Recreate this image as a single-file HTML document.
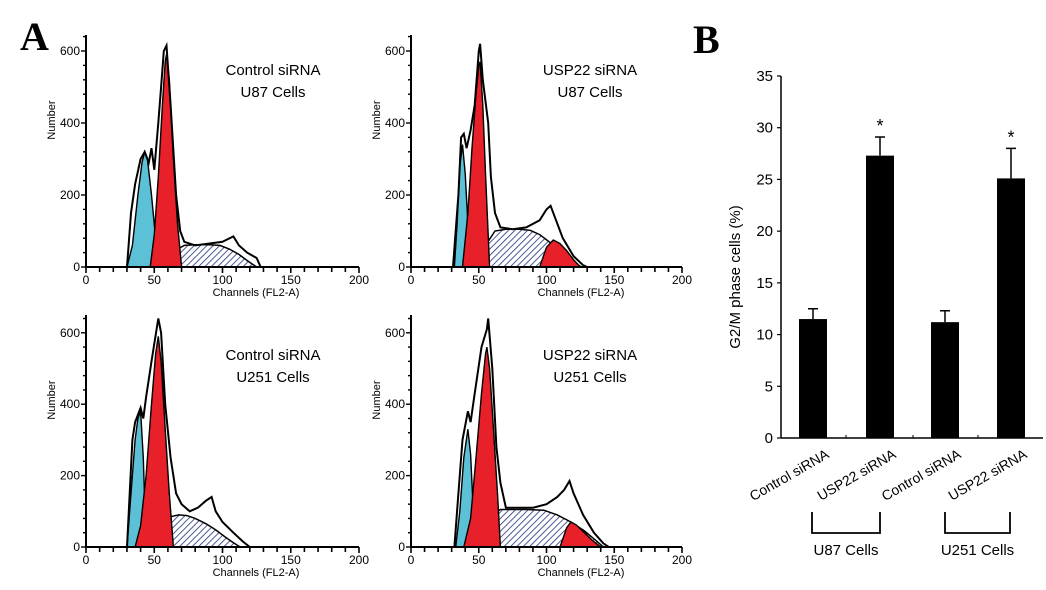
<!DOCTYPE html>
<html><head><meta charset="utf-8">
<style>
html,body{margin:0;padding:0;background:#fff;}
svg{display:block;font-family:"Liberation Sans Narrow","Liberation Sans",Arial,sans-serif;}
</style></head>
<body>
<svg id="fig" width="1046" height="590" viewBox="0 0 1046 590" xmlns="http://www.w3.org/2000/svg">
<defs>
<pattern id="hatch" patternUnits="userSpaceOnUse" width="4.5" height="4.5" patternTransform="rotate(45)">
<rect width="4.5" height="4.5" fill="#fff"/>
<line x1="0" y1="0" x2="0" y2="4.5" stroke="#22307a" stroke-width="1.6"/>
</pattern>
</defs>
<text x="20" y="50" font-family="Liberation Serif,serif" font-weight="bold" font-size="40">A</text>
<text x="693" y="53" font-family="Liberation Serif,serif" font-weight="bold" font-size="40">B</text>
<g id="hists"></g>
<g id="bars"></g>
</svg>
<script>
// ---------- Histogram data (channel, count) ----------
const p1G1x=[30,34,38,41,43,45,48,51,53], p1G1y=[0,60,200,290,320,300,200,80,0];
const p1G2x=[47,50,53,56,58,59,61,64,67,70], p1G2y=[0,90,250,450,570,590,520,300,120,0];
const p1Sx=[53,58,65,72,80,90,98,105,112,118,125], p1Sy=[0,20,45,60,62,62,60,50,35,18,0];
const p1Ox=[30,33,36,40,43,46,48,50,53,55,57,59,62,66,69,72,80,90,100,108,112,118,125,128], p1Oy=[0,150,230,300,320,290,330,270,400,500,600,615,450,200,100,70,60,65,70,85,60,40,25,0];

const p2G1x=[32,34,36,38,40,42,44], p2G1y=[0,120,280,340,260,120,0];
const p2G2x=[38,42,45,48,50,51,53,55,58], p2G2y=[0,150,330,480,560,570,450,260,0];
const p2Sx=[46,50,55,62,70,80,88,95,102,110,120,126], p2Sy=[0,20,60,100,105,105,102,90,70,45,12,0];
const p2Rx=[95,100,105,110,115,120,125], p2Ry=[0,55,75,65,45,20,0];
const p2Ox=[31,33,35,37,39,41,44,47,50,51,53,57,59,62,66,75,85,95,100,103,107,112,120,127,130], p2Oy=[0,100,200,360,370,330,380,450,600,620,520,400,250,150,110,105,110,130,160,170,130,80,30,5,0];

const p3G1x=[30,33,36,38,40,42,44], p3G1y=[0,150,300,360,380,250,0];
const p3G2x=[36,40,44,48,51,53,55,58,61,64], p3G2y=[0,60,200,400,540,590,520,330,150,0];
const p3Sx=[44,50,56,62,68,74,80,88,95,102,108,113], p3Sy=[0,20,55,85,90,88,80,65,48,28,12,0];
const p3Ox=[30,34,36,40,42,44,48,53,55,58,62,66,70,76,82,88,92,95,100,108,115,120], p3Oy=[0,300,350,390,360,420,520,640,600,400,250,150,120,100,110,130,140,100,70,40,15,0];

const p4G1x=[33,36,39,42,44,46,47], p4G1y=[0,100,250,330,260,100,0];
const p4G2x=[39,44,48,52,55,56,58,61,64,66], p4G2y=[0,80,250,430,540,560,500,320,140,0];
const p4Sx=[44,50,56,62,66,75,85,98,108,118,128,136,142], p4Sy=[0,25,65,95,105,105,105,103,90,70,45,20,0];
const p4Rx=[110,115,118,122,128,134,140], p4Ry=[0,55,70,62,40,18,0];
const p4Ox=[32,35,38,40,42,44,47,52,56,57,60,63,66,70,80,90,100,108,113,117,120,127,135,142,146], p4Oy=[0,150,300,340,380,350,430,560,610,640,500,280,180,110,110,110,120,140,160,185,150,90,40,10,0];

const xTicks=[0,50,100,150,200], yTicks=[0,200,400,600];

// ---------- Bar chart data ----------
const barCats=["Control siRNA","USP22 siRNA","Control siRNA","USP22 siRNA"];
const barVals=[11.5,27.3,11.2,25.1];
const barErr=[1.0,1.8,1.1,2.9];
const barSig=[false,true,false,true];
const barTicks=[0,5,10,15,20,25,30,35];

const NS="http://www.w3.org/2000/svg";
function mk(tag,attrs,parent){const e=document.createElementNS(NS,tag);for(const k in attrs)e.setAttribute(k,attrs[k]);parent.appendChild(e);return e;}

const panels=[
 {x0:86,x1:359,y0:267,ppu:0.36,t1:"Control siRNA",t2:"U87 Cells",tx:273,ty:75,G1:[p1G1x,p1G1y],G2:[p1G2x,p1G2y],S:[p1Sx,p1Sy],R:null,O:[p1Ox,p1Oy],nm:"control-u87"},
 {x0:411,x1:682,y0:267,ppu:0.36,t1:"USP22 siRNA",t2:"U87 Cells",tx:590,ty:75,G1:[p2G1x,p2G1y],G2:[p2G2x,p2G2y],S:[p2Sx,p2Sy],R:[p2Rx,p2Ry],O:[p2Ox,p2Oy],nm:"usp22-u87"},
 {x0:86,x1:359,y0:547,ppu:0.357,t1:"Control siRNA",t2:"U251 Cells",tx:273,ty:360,G1:[p3G1x,p3G1y],G2:[p3G2x,p3G2y],S:[p3Sx,p3Sy],R:null,O:[p3Ox,p3Oy],nm:"control-u251"},
 {x0:411,x1:682,y0:547,ppu:0.357,t1:"USP22 siRNA",t2:"U251 Cells",tx:590,ty:360,G1:[p4G1x,p4G1y],G2:[p4G2x,p4G2y],S:[p4Sx,p4Sy],R:[p4Rx,p4Ry],O:[p4Ox,p4Oy],nm:"usp22-u251"}
];
const H=document.getElementById('hists');
panels.forEach(p=>{
 const g=mk('g',{},H);
 
 
 const sx=v=>p.x0+(p.x1-p.x0)*v/200, sy=v=>p.y0-v*p.ppu;
 const path=(xs,ys,close)=>{let d='';xs.forEach((x,i)=>{d+=(i?'L':'M')+sx(x).toFixed(1)+','+sy(ys[i]).toFixed(1);});return d+(close?'Z':'');};
 const s=mk('path',{d:path(p.S[0],p.S[1],true),fill:'url(#hatch)',stroke:'#000','stroke-width':1.5},g);
 
 
 const c=mk('path',{d:path(p.G1[0],p.G1[1],true),fill:'#5cc1d6',stroke:'#000','stroke-width':1.4},g);
 
 
 const r=mk('path',{d:path(p.G2[0],p.G2[1],true),fill:'#e8202a',stroke:'#000','stroke-width':1.4},g);
 
 
 if(p.R){const r2=mk('path',{d:path(p.R[0],p.R[1],true),fill:'#e8202a',stroke:'#000','stroke-width':1.4},g);
 
 }
 const o=mk('path',{d:path(p.O[0],p.O[1],false),fill:'none',stroke:'#000','stroke-width':2},g);
 
 
 // axes
 mk('line',{x1:p.x0,y1:p.y0,x2:p.x1,y2:p.y0,stroke:'#000','stroke-width':2},g);
 mk('line',{x1:p.x0,y1:p.y0,x2:p.x0,y2:p.y0-232,stroke:'#000','stroke-width':2},g);
 for(let v=0;v<=200;v+=10){const big=v%50===0;mk('line',{x1:sx(v),y1:p.y0,x2:sx(v),y2:p.y0+(big?6:5),stroke:'#000','stroke-width':1.6},g);}
 xTicks.forEach(v=>{const t=mk('text',{x:sx(v),y:p.y0+17,'font-size':12,'text-anchor':'middle'},g);t.textContent=v;
  
  });
 for(let v=0;v<=640;v+=40){mk('line',{x1:p.x0,y1:sy(v),x2:p.x0-(v%200===0?5:3),y2:sy(v),stroke:'#000','stroke-width':1.4},g);}
 yTicks.forEach(v=>{const t=mk('text',{x:p.x0-6,y:sy(v)+4,'font-size':12,'text-anchor':'end'},g);t.textContent=v;
  
  });
 const yl=mk('text',{x:0,y:0,'font-size':11,'text-anchor':'middle',transform:`translate(${p.x0-31},${p.y0-147}) rotate(-90)`},g);yl.textContent='Number';
 
 
 const xl=mk('text',{x:p.x0+170,y:p.y0+29,'font-size':11,'text-anchor':'middle'},g);xl.textContent='Channels (FL2-A)';
 
 
 const a=mk('text',{x:p.tx,y:p.ty,'font-size':15,'text-anchor':'middle'},g);a.textContent=p.t1;
 
 
 const b=mk('text',{x:p.tx,y:p.ty+22,'font-size':15,'text-anchor':'middle'},g);b.textContent=p.t2;
 
 
});

// ---------- Bar chart ----------
const B=document.getElementById('bars');
const bx0=781,bx1=1043,by0=438,bpu=(438-76)/35;
const by=v=>by0-v*bpu;
const centers=[813,880,945,1011];
mk('line',{x1:bx0,y1:by0,x2:bx1,y2:by0,stroke:'#000','stroke-width':1.5},B);
mk('line',{x1:bx0,y1:by0,x2:bx0,y2:by(35),stroke:'#000','stroke-width':1.5},B);
barTicks.forEach(v=>{mk('line',{x1:bx0,y1:by(v),x2:bx0-4,y2:by(v),stroke:'#000','stroke-width':1.2},B);
 const t=mk('text',{x:bx0-8,y:by(v)+5,'font-size':15,'text-anchor':'end'},B);t.textContent=v;
 
 });
[846,913,978].forEach(x=>mk('line',{x1:x,y1:by0,x2:x,y2:by0-3,stroke:'#000','stroke-width':1},B));
barVals.forEach((v,i)=>{
 const c=centers[i];
 const r=mk('rect',{x:c-14,y:by(v),width:28,height:by0-by(v),fill:'#000'},B);
 
 
 const e=mk('path',{d:`M${c},${by(v)}V${by(v+barErr[i])}M${c-5},${by(v+barErr[i])}H${c+5}`,stroke:'#000','stroke-width':1.5,fill:'none'},B);
 
 
 if(barSig[i]){const s=mk('text',{x:c,y:by(v+barErr[i])-5,'font-size':18,'text-anchor':'middle'},B);s.textContent='*';
  
  }
 const l=mk('text',{x:0,y:0,'font-size':14,'text-anchor':'end',transform:`translate(${c+17},${by0+19}) rotate(-30)`},B);l.textContent=barCats[i];
 
 
});
const yt=mk('text',{x:0,y:0,'font-size':15,'text-anchor':'middle',transform:'translate(740,277) rotate(-90)'},B);yt.textContent='G2/M phase cells (%)';


[[812,880,'U87 Cells'],[945,1010,'U251 Cells']].forEach(([a,b,t])=>{
 const br=mk('path',{d:`M${a},512V533H${b}V512`,stroke:'#000','stroke-width':1.8,fill:'none'},B);
 
 
 const tx=mk('text',{x:(a+b)/2,y:555,'font-size':15,'text-anchor':'middle'},B);tx.textContent=t;
 
 
});
</script>
</body></html>
